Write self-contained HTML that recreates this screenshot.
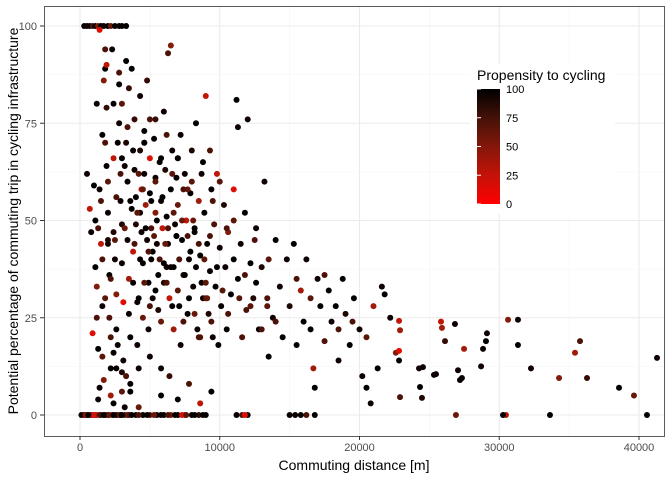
<!DOCTYPE html>
<html><head><meta charset="utf-8"><style>
body{margin:0;background:#fff;font-family:"Liberation Sans",sans-serif}
svg text{font-family:"Liberation Sans",sans-serif}
</style></head><body>
<svg id="chart" width="672" height="480">
<defs><linearGradient id="cb" x1="0" y1="1" x2="0" y2="0">
<stop offset="0" stop-color="#ff0000"/><stop offset="0.25" stop-color="#c41208"/><stop offset="0.5" stop-color="#84170a"/><stop offset="0.75" stop-color="#441108"/><stop offset="1" stop-color="#000"/></linearGradient></defs>
<rect x="44" y="6" width="620" height="430" fill="#fff"/>
<g id="grid"></g><g id="pts"></g>
<rect x="44.5" y="6.5" width="620" height="430" fill="none" stroke="#333" stroke-width="0.8"/>
<g id="axes"></g>
<text x="354" y="470" text-anchor="middle" font-size="14" fill="#000">Commuting distance [m]</text>
<text transform="translate(18,221) rotate(-90)" text-anchor="middle" font-size="14" fill="#000">Potential percentage of commuting trip in cycling infrastructure</text>
<g>
<rect x="470" y="64" width="145" height="150" fill="#fff"/>
<text x="477" y="80" font-size="14">Propensity to cycling</text>
<rect x="477" y="89" width="23" height="115" fill="url(#cb)"/>
<g id="leg"></g>
</g>
</svg>
<script>
const xTicks=[0,10000,20000,30000,40000];
const yTicks=[0,25,50,75,100];
const legendTicks=[0,25,50,75,100];
const distanceA=[100,300,500,800,1000,1200,1500,1800,2000,2300,2600,2900,3200,3500,4000,4500,5000,5500,6000,6500,7000,7500,8000,8500,9000,11200,11600,12000,15000,15400,15800,16200,16800,900,1100,7300,11800,
300,500,700,900,1100,1300,1500,1700,2000,2200,2500,2800,3000,3300,1400,
500,700,800,900,1000,1100,1200,1300,1400,1500,1100,1400,1600,1600,1700,1800,1800,1900,1900,2000,2000,2100,2100,2200,2200,2300,2400,2400,2500,2600,2600,2700,2800,2800,2900,2900,3000,3000,3100,3100,3200,3300,3300,3400,3400,3500,3500,3600,3600,3700,3700,3800,3800,3900,3900,4000,4000,4100,4100,4200,4300,4300,4400,4400,4500,4500,4600,4600,4700,4800,4800,4900,4900,5000,5000,5100,5200,5200,5300,5400,5400,5500,5600,5600,5700,5800,5800,5900,6000,6000,6100,6200,6300,6300,6400,6500,6500,6600,6700,6700,6800,6900,7000,7100,7200,7200,7300,7400,7500,7600,7700,7800,7900,8000,8100,8200,8300,8400,8500,8600,8700,8800,8900,9000,9100,9200,9300,9400,9500,9600,9700,9800,9900,10000,10100,10300,10400,10500,10600,10800,11000,11200,11300,11300,11500,11600,11800,11900,12000,12200,12400,12600,12800,13000,13200,13400,13500,13800,14000,14300,14500,14800,15000,15300,15500,15800,16000,16200,16500,16700,16800,17000,17200,17500,17800,18000,18300,18500,18800,19000,19300,19600,20000,20200,20500,20800,21000,21300,21600,21800,22200,22600,
41290,40570,39640,38570,36280,35780,35420,34280,33630,32270,31340,31340,30630,30480,30270,29050,29120,28840,28700,27480,26830,27330,27050,27190,26900,26120,25900,25830,25470,25330,24540,24330,24470,24260,22900,22830,22830,22830,22900,
1300,1700,2400,3000,3600,4200,5000,5800,6400,7000,7800,8600,9400,2000,2600,3200,4600,5400,6200,7000,8200,9000,1200,1900,2700,3500,4300,5100,6000,6900,7700,8500];
const percentA=[0,0,0,0,0,0,0,0,0,0,0,0,0,0,0,0,0,0,0,0,0,0,0,0,0,0,0,0,0,0,0,0,0,0,0,0,0,
100,100,100,100,100,100,100,100,100,100,100,100,100,100,99,
62,53,47,21,59,38,33,17,7,44,50,58,72,28,86,89,94,79,64,52,44,36,25,12,5,94,66,47,40,31,22,18,85,75,62,55,49,39,29,14,2,91,70,60,45,35,26,20,8,89,53,42,34,76,63,56,49,29,18,12,82,68,58,47,39,25,73,62,54,45,86,34,22,66,57,48,42,30,71,61,52,44,36,27,65,55,12,48,39,78,63,51,93,44,30,95,58,68,38,22,49,61,54,28,18,72,45,36,62,50,26,40,57,68,33,47,75,22,55,41,62,30,52,82,44,26,37,58,20,49,33,62,18,43,28,54,38,22,47,31,58,81,74,35,44,20,52,27,76,39,30,48,22,38,60,30,15,25,45,33,20,40,28,44,18,32,24,40,22,12,7,35,28,19,32,24,28,14,35,26,18,30,22,10,7,3,28,12,33,31,25,16,
14.7,0,5,7,9.5,19,16,9.5,0,12,18,24.5,24.5,0,0,19,21,17,12.5,17,23.4,9.5,11.5,9,0,19,22.4,24,10.5,10.3,12.3,7.2,4.4,12,21.8,24.2,16.5,14,4.6,
4,9,3,11,6,2,15,5,10,4,8,3,6,45,56,64,70,76,38,66,48,30,80,90,70,84,52,40,34,46,58,20];
const propensityA=[90,90,80,95,20,10,95,60,90,40,95,90,60,95,90,95,60,90,95,40,95,20,90,70,95,95,60,90,95,90,95,60,95,10,15,10,10,
95,90,95,60,95,40,95,90,95,50,95,90,95,95,10,
90,20,90,10,95,95,40,95,90,20,95,90,95,90,40,95,60,70,95,90,90,95,60,95,30,90,20,80,90,40,95,90,95,90,60,90,80,90,10,90,90,95,80,95,90,30,90,95,95,95,95,20,95,70,90,95,80,90,90,90,90,80,20,90,95,50,95,90,30,90,70,95,90,10,95,60,95,90,95,90,40,90,95,80,95,90,90,20,95,90,80,95,60,90,20,40,95,90,95,30,90,95,50,95,90,90,95,80,90,20,95,90,95,80,90,95,95,90,30,95,90,95,95,20,95,80,90,95,90,60,95,20,95,90,95,80,90,95,40,95,10,95,90,95,90,60,95,60,90,95,80,90,95,80,90,60,95,90,95,90,95,90,80,95,95,30,95,90,95,30,95,90,95,60,95,90,95,90,95,80,95,95,90,90,95,90,30,95,90,95,
90,40,90,95,50,95,70,60,30,40,95,90,95,90,40,20,95,95,90,90,90,30,90,90,90,95,50,70,30,20,95,90,90,95,80,90,30,20,10,
95,60,90,40,95,80,95,50,90,95,70,95,60,20,95,80,60,90,95,70,90,50,95,60,90,20,95,70,90,95,80,95];
const distanceB=[3200,3600,3900,4100,4300,4500,4700,4900,5100,5300,5500,5700,5900,6100,6300,6500,6700,6900,7100,7300,7500,7700,7900,8100,8300,8500,8700,8900,9100,9300,4200,4600,5000,5400,5800,6200,6600,7000,7400,7800,8200,8600,9000,9400,9800,10200,10600,11000,11400,11800,12200,12600,13000,13400,14000,3000,3400,3800,4200,4600,5000,5400,5800,6200,6600,7000,7400,8000,2400,2800,3000,1800,2000,1600,1800,2200,2600,2400,3300,3000,2200,2500,1300,1500,1200,1600,15500,16500,17500,18500,19500,20500,12500,13500,10500,11000,9500,10000,8800,9300,
400,600,1400,1700,2100,2400,2800,3000,3400,3700,4200,4800,5300,5800,6300,6800,7600,8200,8800];
const percentB=[48,55,44,52,40,58,48,42,55,46,50,40,56,44,48,38,52,46,40,50,36,46,42,50,38,44,34,40,30,46,30,34,28,32,24,34,28,32,24,30,26,20,34,24,38,32,26,40,30,36,28,34,22,28,24,66,74,68,62,70,76,60,66,72,62,66,58,60,80,88,80,70,60,40,30,20,12,16,10,6,35,45,48,55,25,15,35,30,36,22,24,20,45,40,48,50,55,60,65,68,
0,0,0,0,0,0,0,0,0,0,0,0,0,0,0,0,0,0,0];
const propensityB=[50,60,50,95,60,55,95,50,95,60,95,55,95,60,95,50,60,95,55,95,60,50,95,60,95,50,95,60,95,55,50,60,95,55,60,95,50,60,95,55,60,95,50,60,55,60,95,55,60,95,55,60,55,95,60,55,60,95,60,95,55,95,60,55,95,60,55,95,60,55,95,60,55,60,55,60,55,60,95,95,60,55,60,55,60,60,60,55,60,55,60,60,60,55,60,55,60,55,60,55,
95,60,40,95,60,95,50,95,60,95,55,95,60,95,50,95,60,95,55];
const distance=distanceA.concat(distanceB);
const percent=percentA.concat(percentB);
const propensity=propensityA.concat(propensityB);
const NS="http://www.w3.org/2000/svg";
const X0=44,X1=664,Y0=6,Y1=436;
function xs(v){return 80+v/40000*(639-80);}
function ys(v){return 415-v/100*(415-26);}
function col(p){const t=Math.max(0,Math.min(1,p/100));const r=Math.round(255*Math.pow(1-t,1.3));const g=Math.round(30*Math.sin(Math.PI*t)*(1-t)*2);return `rgb(${r},${Math.round(g*0.8)},${Math.round(g*0.3)})`;}
function mk(tag,attrs,parent){const e=document.createElementNS(NS,tag);for(const k in attrs)e.setAttribute(k,attrs[k]);parent.appendChild(e);return e;}
const grid=document.getElementById('grid'),axes=document.getElementById('axes'),pts=document.getElementById('pts'),leg=document.getElementById('leg');
for(let i=0;i<xTicks.length;i++){
 const m=mk('line',{x1:xs(xTicks[i]),x2:xs(xTicks[i]),y1:Y0,y2:Y1,stroke:'#ebebeb','stroke-width':1.1},grid);
 
 
 const mv=(xTicks[i]+5000);if(xs(mv)<X1){const n=mk('line',{x1:xs(mv),x2:xs(mv),y1:Y0,y2:Y1,stroke:'#f4f4f4','stroke-width':0.6},grid);}
 const tk=mk('line',{x1:xs(xTicks[i]),x2:xs(xTicks[i]),y1:Y1,y2:Y1+4,stroke:'#333'},axes);
 
 
 const t=mk('text',{x:xs(xTicks[i]),y:Y1+15,'text-anchor':'middle','font-size':11,fill:'#4d4d4d'},axes);t.textContent=xTicks[i];
 
 
}
for(let i=0;i<yTicks.length;i++){
 const m=mk('line',{x1:X0,x2:X1,y1:ys(yTicks[i]),y2:ys(yTicks[i]),stroke:'#ebebeb','stroke-width':1.1},grid);
 
 
 if(i<yTicks.length-1){const n=mk('line',{x1:X0,x2:X1,y1:ys(yTicks[i]+12.5),y2:ys(yTicks[i]+12.5),stroke:'#f4f4f4','stroke-width':0.6},grid);}
 const tk=mk('line',{x1:X0-4,x2:X0,y1:ys(yTicks[i]),y2:ys(yTicks[i]),stroke:'#333'},axes);
 
 
 const t=mk('text',{x:X0-7,y:ys(yTicks[i])+4,'text-anchor':'end','font-size':11,fill:'#4d4d4d'},axes);t.textContent=yTicks[i];
 
 
}
for(let i=0;i<distance.length;i++){
 const c=mk('circle',{cx:xs(distance[i]),cy:ys(percent[i]),r:3,fill:col(propensity[i])},pts);
 
 
}
for(let i=0;i<legendTicks.length;i++){
 const y=204-legendTicks[i]/100*115;
 const t=mk('text',{x:506,y:y+4,'font-size':11,fill:'#000'},leg);t.textContent=legendTicks[i];
 
 
 const l=mk('line',{x1:477,x2:481,y1:y,y2:y,stroke:'#fff'},leg);
 
 
}
</script>
</body></html>
